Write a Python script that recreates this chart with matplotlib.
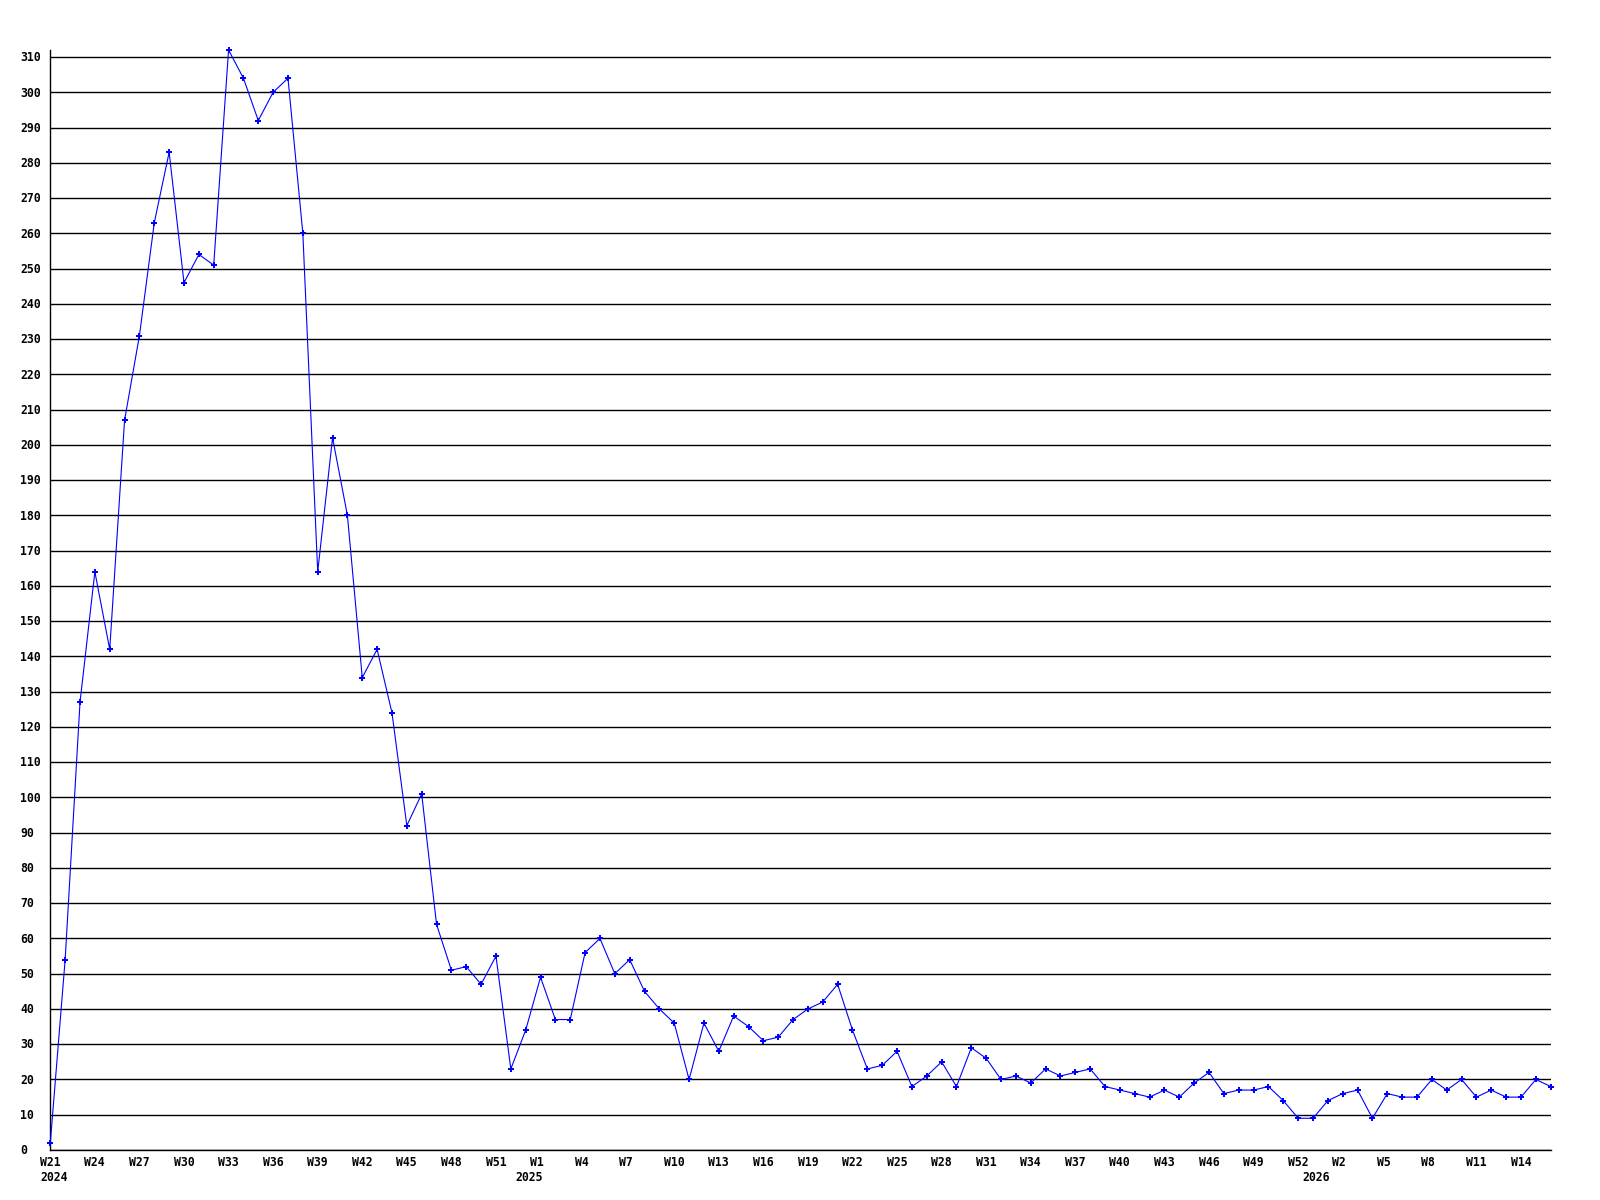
import matplotlib
matplotlib.use('Agg')
import matplotlib.pyplot as plt
import matplotlib.transforms as mtransforms
import numpy as np
import pandas as pd

# ---- data ----
values = [2, 54, 127, 164, 142, 207, 231, 263, 283, 246,
          254, 251, 312, 304, 292, 300, 304, 260, 164, 202,
          180, 134, 142, 124, 92, 101, 64, 51, 52, 47,
          55, 23, 34, 49, 37, 37, 56, 60, 50, 54,
          45, 40, 36, 20, 36, 28, 38, 35, 31, 32,
          37, 40, 42, 47, 34, 23, 24, 28, 18, 21,
          25, 18, 29, 26, 20, 21, 19, 23, 21, 22,
          23, 18, 17, 16, 15, 17, 15, 19, 22, 16,
          17, 17, 18, 14, 9, 9, 14, 16, 17, 9,
          16, 15, 15, 20, 17, 20, 15, 17, 15, 15,
          20, 18]
start_date = '2024-05-22'
week_labels = ['W21', 'W24', 'W27', 'W30', 'W33', 'W36', 'W39', 'W42', 'W45',
               'W48', 'W51', 'W1', 'W4', 'W7', 'W10', 'W13', 'W16', 'W19',
               'W22', 'W25', 'W28', 'W31', 'W34', 'W37', 'W40', 'W43', 'W46',
               'W49', 'W52', 'W2', 'W5', 'W8', 'W11', 'W14']
label_step = 3
y_ticks = list(range(0, 311, 10))

FONT = 'DejaVu Sans Mono'
FS = 8.3

dates = pd.date_range(start_date, periods=len(values), freq='7D')
x = np.arange(len(values))

fig = plt.figure(figsize=(16, 12), dpi=100)
W, H = 1600, 1200
ax = fig.add_axes([50.3 / W, 50 / H, (1550.7 - 50.3) / W, 1100 / H])

ax.plot(x, values, color='#0000ff', lw=0.8, marker='P', ms=4.6, mew=0,
        mfc='#0000ff', zorder=3, clip_on=False)

ax.set_xlim(0, len(values) - 1)
ax.set_ylim(0, max(values))

# y axis: gridlines + left-aligned labels
ax.set_yticks(y_ticks)
ax.set_yticklabels([str(v) for v in y_ticks])
ax.yaxis.grid(True, color='black', lw=1.0)
ax.set_axisbelow(True)
ax.tick_params(axis='y', length=0, pad=30.3 * 0.72)
off_y = mtransforms.ScaledTranslation(0, -4.2 / 100, fig.dpi_scale_trans)
for lab in ax.get_yticklabels():
    lab.set_fontfamily(FONT)
    lab.set_fontweight('bold')
    lab.set_fontsize(FS)
    lab.set_horizontalalignment('left')
    lab.set_verticalalignment('baseline')
    lab.set_transform(lab.get_transform() + off_y)

# x axis: week labels every 3rd point
tick_idx = x[::label_step][:len(week_labels)]
ax.set_xticks(tick_idx)
ax.set_xticklabels(week_labels)
ax.tick_params(axis='x', length=0, pad=16 * 0.72)
off_x = mtransforms.ScaledTranslation(-10.4 / 100, 0, fig.dpi_scale_trans)
for lab in ax.get_xticklabels():
    lab.set_fontfamily(FONT)
    lab.set_fontweight('bold')
    lab.set_fontsize(FS)
    lab.set_horizontalalignment('left')
    lab.set_verticalalignment('baseline')
    lab.set_transform(lab.get_transform() + off_x)

# year labels at first point of each year
years = dates.year
first_idx = [i for i in range(len(years)) if i == 0 or years[i] != years[i - 1]]
trans_year = mtransforms.blended_transform_factory(ax.transData, ax.transAxes) + \
    mtransforms.ScaledTranslation(-10.4 / 100, -31 / 100, fig.dpi_scale_trans)
for i in first_idx:
    ax.text(i, 0, str(years[i]), transform=trans_year, ha='left', va='baseline',
            fontfamily=FONT, fontweight='bold', fontsize=FS, color='black')

for s in ['top', 'right']:
    ax.spines[s].set_visible(False)
ax.spines['left'].set_color('black')
ax.spines['bottom'].set_color('black')
ax.spines['left'].set_linewidth(1.0)
ax.spines['bottom'].set_linewidth(1.0)

fig.savefig('out.png', dpi=100, facecolor='white')
